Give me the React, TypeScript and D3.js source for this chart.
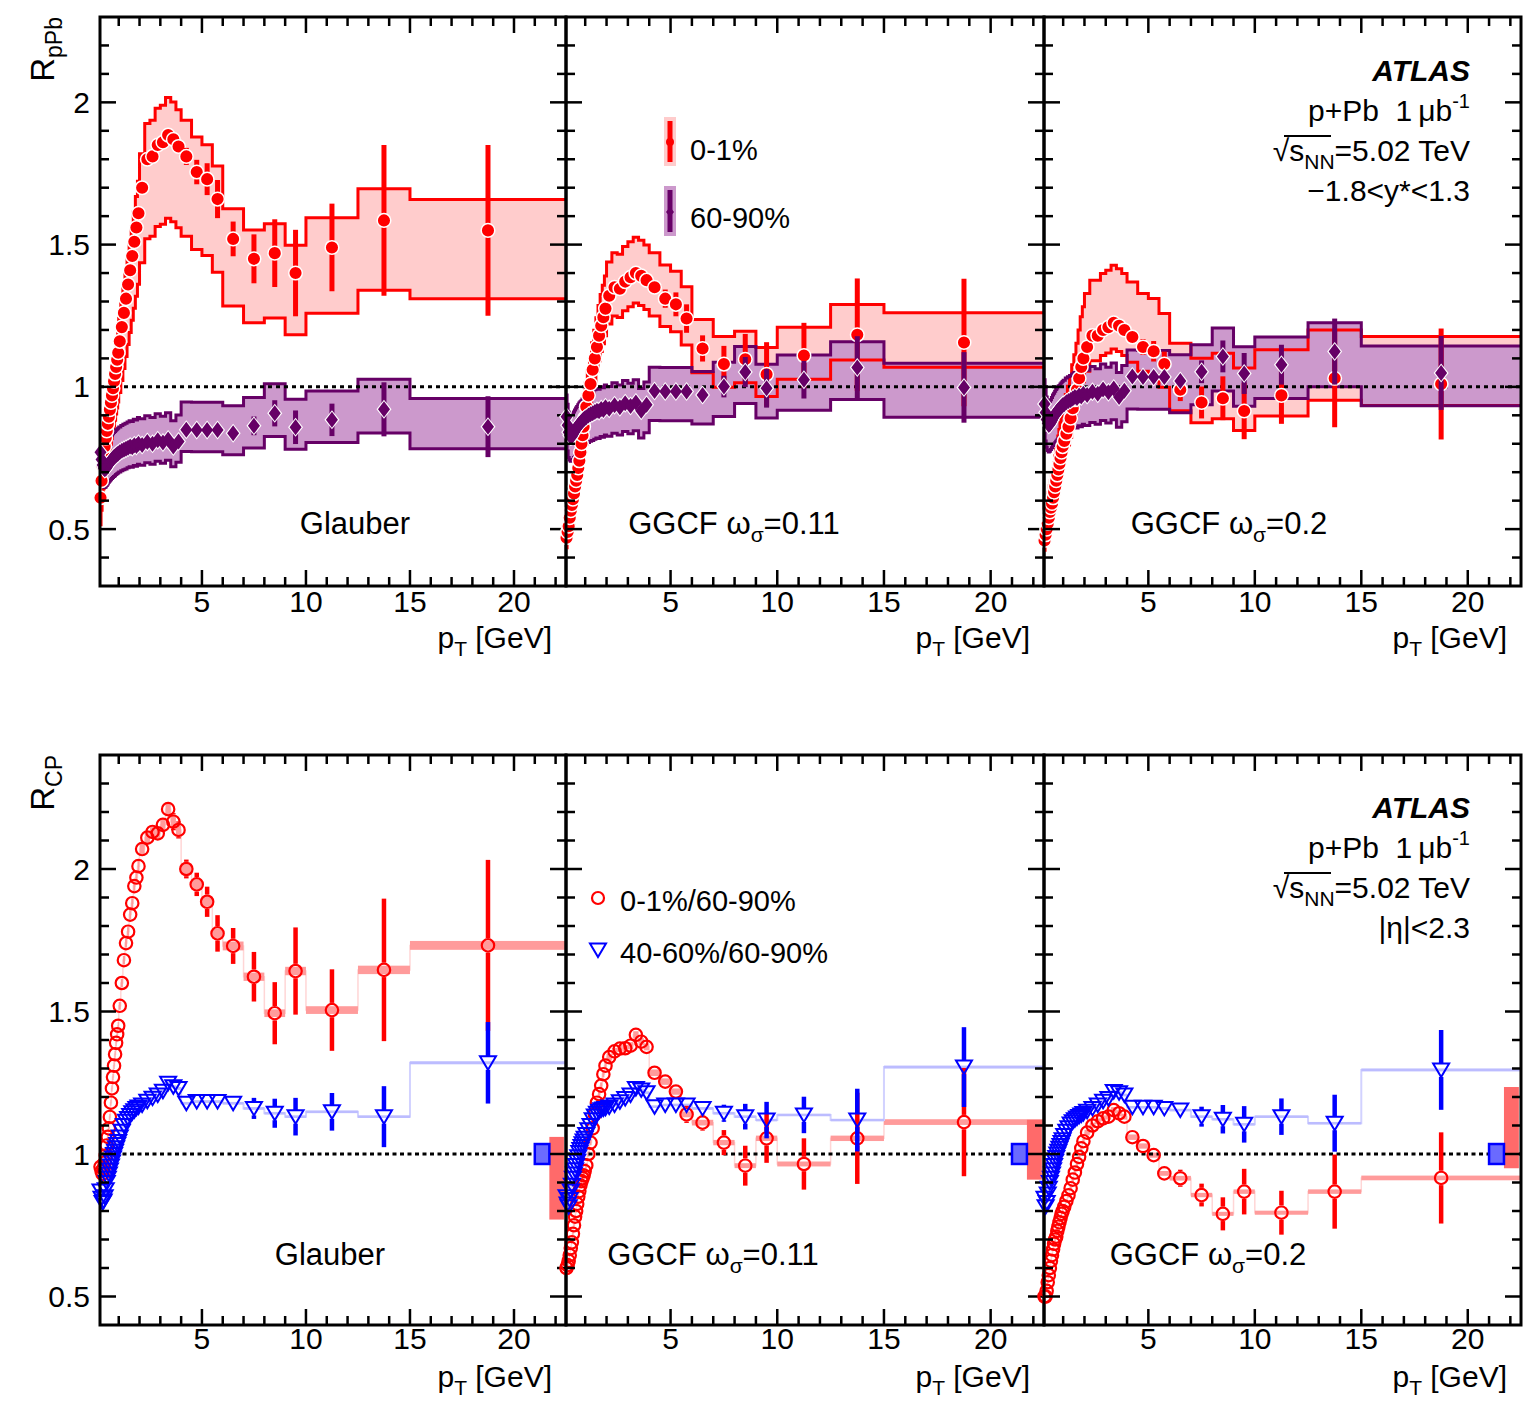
import React from 'react';
import * as d3 from 'd3';

const FONT = "'Liberation Sans', Arial, Helvetica, sans-serif";

// pT bin edges [GeV], 47 bins
const binEdges = [
  0.1, 0.15, 0.2, 0.25, 0.3, 0.35, 0.4, 0.45, 0.5, 0.55, 0.6, 0.65, 0.7, 0.75, 0.8, 0.85, 0.9, 0.95,
  1.0, 1.1, 1.2, 1.3, 1.4, 1.5, 1.6, 1.7, 1.8, 1.9,
  2.0, 2.25, 2.5, 2.75, 3.0, 3.25, 3.5, 3.75,
  4.0, 4.5, 5.0, 5.5, 6.0, 7.0, 8.0, 9.0, 10.0, 12.5, 15.0, 22.5,
];

// ---- R_pPb, -1.8<y*<1.3 ----
const rpbGlauber01 = [
  0.61, 0.67, 0.72, 0.76, 0.79, 0.82, 0.845, 0.87, 0.895, 0.92, 0.945, 0.97, 0.995, 1.02, 1.045, 1.07, 1.095, 1.12,
  1.16, 1.21, 1.26, 1.31, 1.36, 1.41, 1.46, 1.51, 1.56, 1.61,
  1.7, 1.8, 1.81, 1.85, 1.86, 1.885, 1.87, 1.845,
  1.81, 1.755, 1.73, 1.66, 1.52, 1.45, 1.47, 1.4, 1.49, 1.585, 1.55,
];
const rpbGlauber6090 = [
  0.77, 0.745, 0.725, 0.715, 0.71, 0.712, 0.718, 0.724, 0.73, 0.735, 0.74, 0.745, 0.749, 0.753, 0.756, 0.76, 0.763, 0.766,
  0.77, 0.775, 0.779, 0.782, 0.786, 0.79, 0.788, 0.795, 0.792, 0.8,
  0.796, 0.806, 0.8, 0.812, 0.804, 0.815, 0.79, 0.808,
  0.849, 0.848, 0.848, 0.848, 0.837, 0.863, 0.907, 0.858, 0.884, 0.921, 0.86,
];
const rpbGgcf11_01 = [
  0.47, 0.49, 0.51, 0.54, 0.565, 0.585, 0.605, 0.625, 0.65, 0.67, 0.69, 0.715, 0.74, 0.77, 0.8, 0.83, 0.86, 0.89,
  0.93, 0.97, 1.01, 1.06, 1.1, 1.14, 1.18, 1.215, 1.245, 1.275,
  1.32, 1.35, 1.345, 1.37, 1.385, 1.4, 1.39, 1.375,
  1.35, 1.31, 1.29, 1.24, 1.135, 1.08, 1.097, 1.044, 1.11, 1.183, 1.156,
];
const rpbGgcf11_6090 = [
  0.895, 0.865, 0.84, 0.83, 0.825, 0.826, 0.833, 0.84, 0.847, 0.853, 0.858, 0.864, 0.869, 0.873, 0.877, 0.882, 0.885, 0.889,
  0.893, 0.899, 0.904, 0.907, 0.912, 0.916, 0.914, 0.922, 0.919, 0.928,
  0.923, 0.935, 0.928, 0.942, 0.933, 0.945, 0.916, 0.937,
  0.985, 0.984, 0.984, 0.984, 0.971, 1.001, 1.052, 0.995, 1.025, 1.068, 0.998,
];
const rpbGgcf2_01 = [
  0.46, 0.48, 0.5, 0.52, 0.54, 0.56, 0.575, 0.59, 0.61, 0.63, 0.65, 0.67, 0.69, 0.71, 0.73, 0.75, 0.77, 0.79,
  0.81, 0.835, 0.86, 0.89, 0.925, 0.955, 0.99, 1.03, 1.07, 1.1,
  1.14, 1.18, 1.18, 1.2, 1.21, 1.225, 1.215, 1.2,
  1.175, 1.14, 1.125, 1.08, 0.99, 0.945, 0.96, 0.915, 0.97, 1.03, 1.01,
];
const rpbGgcf2_6090 = [
  0.94, 0.91, 0.885, 0.872, 0.866, 0.869, 0.876, 0.883, 0.891, 0.897, 0.903, 0.909, 0.914, 0.919, 0.922, 0.927, 0.931, 0.935,
  0.939, 0.946, 0.95, 0.954, 0.959, 0.964, 0.961, 0.97, 0.966, 0.976,
  0.971, 0.983, 0.976, 0.991, 0.981, 0.994, 0.964, 0.986,
  1.036, 1.035, 1.035, 1.035, 1.021, 1.053, 1.107, 1.047, 1.078, 1.124, 1.049,
];

// statistical errors, from bin index STAT_FROM (3.5-3.75 GeV) on
const STAT_FROM = 34;
const statGlauber01 = [0.01, 0.012, 0.03, 0.043, 0.056, 0.067, 0.061, 0.086, 0.119, 0.152, 0.154, 0.265, 0.3];
const statGlauber6090 = [0, 0, 0, 0, 0, 0, 0.01, 0.033, 0.046, 0.059, 0.057, 0.095, 0.107];
const statGgcf11_01 = [0.008, 0.009, 0.02, 0.032, 0.042, 0.05, 0.046, 0.064, 0.089, 0.113, 0.115, 0.198, 0.224];
const statGgcf11_6090 = [0, 0, 0, 0, 0, 0, 0.012, 0.038, 0.053, 0.068, 0.066, 0.11, 0.124];
const statGgcf2_01 = [0.007, 0.008, 0.018, 0.028, 0.036, 0.044, 0.04, 0.056, 0.077, 0.099, 0.1, 0.172, 0.195];
const statGgcf2_6090 = [0, 0, 0, 0, 0, 0, 0.012, 0.04, 0.056, 0.072, 0.07, 0.116, 0.13];

// relative systematic band [up, down]
const sysGlauber = { c01: [0.07, 0.155], c6090: [0.115, 0.09] };
const sysGgcf11 = { c01: [0.09, 0.075], c6090: [0.085, 0.105] };
const sysGgcf2 = { c01: [0.165, 0.075], c6090: [0.09, 0.11] };

// ---- R_CP, |eta|<2.3 ----
const rcpGlauber01 = [
  0.955, 0.94, 0.93, 0.95, 0.97, 0.995, 1.03, 1.06, 1.09, 1.13, 1.18, 1.23, 1.27, 1.31, 1.35, 1.39, 1.42, 1.45,
  1.52, 1.6, 1.68, 1.74, 1.78, 1.84, 1.88, 1.94, 1.97, 2.01,
  2.07, 2.11, 2.13, 2.125, 2.155, 2.21, 2.166, 2.137,
  2.0, 1.946, 1.885, 1.774, 1.73, 1.622, 1.494, 1.642, 1.505, 1.646, 1.732,
];
const rcpGlauber4060 = [
  0.87, 0.845, 0.83, 0.835, 0.85, 0.875, 0.9, 0.915, 0.93, 0.944, 0.958, 0.972, 0.986, 0.998, 1.01, 1.022, 1.033, 1.044,
  1.06, 1.08, 1.1, 1.115, 1.125, 1.135, 1.145, 1.152, 1.16, 1.165,
  1.172, 1.185, 1.196, 1.207, 1.22, 1.248, 1.236, 1.23,
  1.178, 1.184, 1.184, 1.184, 1.178, 1.16, 1.143, 1.131, 1.148, 1.131, 1.32,
];
const rcpGgcf11_01 = [
  0.6, 0.61, 0.625, 0.645, 0.67, 0.69, 0.72, 0.75, 0.78, 0.8, 0.825, 0.85, 0.87, 0.89, 0.905, 0.915, 0.925, 0.94,
  0.96, 1.0, 1.04, 1.09, 1.14, 1.18, 1.21, 1.24, 1.28, 1.31,
  1.34, 1.36, 1.37, 1.371, 1.38, 1.418, 1.394, 1.376,
  1.285, 1.254, 1.219, 1.139, 1.11, 1.04, 0.959, 1.055, 0.965, 1.055, 1.112,
];
const rcpGgcf11_4060 = [
  0.85, 0.825, 0.815, 0.84, 0.87, 0.89, 0.915, 0.93, 0.945, 0.96, 0.975, 0.99, 1.005, 1.016, 1.026, 1.036, 1.046, 1.055,
  1.068, 1.085, 1.1, 1.12, 1.133, 1.143, 1.15, 1.155, 1.158, 1.16,
  1.165, 1.172, 1.183, 1.195, 1.207, 1.23, 1.225, 1.215,
  1.166, 1.172, 1.172, 1.172, 1.16, 1.143, 1.131, 1.119, 1.137, 1.119, 1.305,
];
const rcpGgcf2_01 = [
  0.5, 0.5, 0.52, 0.55, 0.575, 0.6, 0.625, 0.645, 0.665, 0.685, 0.7, 0.71, 0.73, 0.745, 0.76, 0.775, 0.79, 0.8,
  0.815, 0.835, 0.855, 0.88, 0.91, 0.935, 0.965, 0.99, 1.02, 1.045,
  1.075, 1.1, 1.115, 1.125, 1.131, 1.154, 1.143, 1.131,
  1.059, 1.028, 0.996, 0.932, 0.915, 0.856, 0.79, 0.868, 0.794, 0.868, 0.916,
];
const rcpGgcf2_4060 = [
  0.845, 0.815, 0.83, 0.86, 0.88, 0.9, 0.915, 0.93, 0.945, 0.96, 0.975, 0.988, 1.0, 1.01, 1.02, 1.03, 1.04, 1.05,
  1.065, 1.08, 1.092, 1.105, 1.113, 1.12, 1.126, 1.132, 1.137, 1.142,
  1.15, 1.16, 1.172, 1.185, 1.195, 1.219, 1.215, 1.207,
  1.164, 1.164, 1.164, 1.16, 1.154, 1.131, 1.122, 1.104, 1.131, 1.108, 1.295,
];
const rcpStatGlauber01 = [0.03, 0.03, 0.033, 0.041, 0.053, 0.064, 0.063, 0.087, 0.109, 0.153, 0.143, 0.25, 0.3];
const rcpStatGlauber4060 = [0, 0, 0, 0, 0, 0.01, 0.02, 0.037, 0.051, 0.066, 0.066, 0.107, 0.143];
const rcpStatGgcf11_01 = [0.008, 0.01, 0.012, 0.015, 0.02, 0.03, 0.028, 0.044, 0.07, 0.086, 0.09, 0.16, 0.19];
const rcpStatGgcf11_4060 = [0, 0, 0, 0, 0, 0.01, 0.02, 0.03, 0.045, 0.064, 0.064, 0.11, 0.14];
const rcpStatGgcf2_01 = [0.006, 0.008, 0.01, 0.015, 0.02, 0.025, 0.03, 0.04, 0.058, 0.08, 0.077, 0.13, 0.16];
const rcpStatGgcf2_4060 = [0, 0, 0, 0, 0, 0.01, 0.02, 0.035, 0.05, 0.064, 0.064, 0.1, 0.14];
const rcpSysRel01 = 0.009;
const rcpSysRel4060 = 0.004;
// normalisation uncertainties [low, high] per panel
const normRed = [[0.77, 1.06], [0.91, 1.12], [0.95, 1.235]];
const normBlue = [[0.965, 1.035], [0.965, 1.035], [0.965, 1.035]];
const normPt = [21.0, 21.7, 22.4];

const ptRange = [0.1, 22.5];
const rpbRange = [0.3, 2.3];
const rcpRange = [0.4, 2.4];
const yLabelVals = [0.5, 1, 1.5, 2];
const xLabelVals = [5, 10, 15, 20];

const panelCols = [
  { x0: 100, x1: 566 },
  { x0: 566, x1: 1044 },
  { x0: 1044, x1: 1521 },
];
const TOP = { y0: 17, y1: 586 };
const BOT = { y0: 755, y1: 1325 };

const centers = binEdges.slice(0, -1).map((e, i) => (e + binEdges[i + 1]) / 2);
const statAt = (arr: number[], i: number) => (i >= STAT_FROM ? arr[i - STAT_FROM] : 0);

type BandPt = { x: number; lo: number; hi: number };
function stepBand(vals: number[], up: number, dn: number): BandPt[] {
  return vals.flatMap((v, i) => [
    { x: binEdges[i], lo: v * (1 - dn), hi: v * (1 + up) },
    { x: binEdges[i + 1], lo: v * (1 - dn), hi: v * (1 + up) },
  ]);
}

function Frame({ x, y }: { x: d3.ScaleLinear<number, number>; y: d3.ScaleLinear<number, number> }) {
  const [xl, xr] = x.range();
  const [yb, yt] = y.range();
  const [d0, d1] = y.domain();
  const xt = d3.range(1, 23);
  const yt10 = d3.range(Math.round(d0 * 10) + 1, Math.round(d1 * 10));
  return (
    <g stroke="#000" strokeWidth={2.5} fill="none">
      {xt.map((v) => {
        const L = v % 5 === 0 ? 16 : 9;
        return (
          <g key={'x' + v}>
            <line x1={x(v)} x2={x(v)} y1={yb} y2={yb - L} />
            <line x1={x(v)} x2={x(v)} y1={yt} y2={yt + L} />
          </g>
        );
      })}
      {yt10.map((k) => {
        const L = k % 5 === 0 ? 16 : 9;
        const yy = y(k / 10);
        return (
          <g key={'y' + k}>
            <line x1={xl} x2={xl + L} y1={yy} y2={yy} />
            <line x1={xr} x2={xr - L} y1={yy} y2={yy} />
          </g>
        );
      })}
      <rect x={xl} y={yt} width={xr - xl} height={yb - yt} strokeWidth={3} />
    </g>
  );
}

function AxisText({ x, y, col, tickBase, titleBase }: any) {
  const [xl, xr] = x.range();
  return (
    <g fontFamily={FONT} fill="#000">
      {xLabelVals.map((v) => (
        <text key={v} x={x(v)} y={tickBase} fontSize={30} textAnchor="middle">{v}</text>
      ))}
      {col === 0 &&
        yLabelVals.map((v) => (
          <text key={'l' + v} x={xl - 10} y={y(v) + 10.5} fontSize={30} textAnchor="end">{v}</text>
        ))}
      <text x={xr - 14} y={titleBase} fontSize={30} textAnchor="end">
        p<tspan dy={8} fontSize={21}>T</tspan>
        <tspan dy={-8}>{'\u00a0[GeV]'}</tspan>
      </text>
    </g>
  );
}

function PanelLabel({ text, cx, base }: { text: string; cx: number; base: number }) {
  if (text === 'Glauber')
    return <text x={cx} y={base} fontSize={31} textAnchor="middle" fontFamily={FONT}>Glauber</text>;
  return (
    <text x={cx} y={base} fontSize={31} textAnchor="middle" fontFamily={FONT}>
      {'GGCF \u03c9'}
      <tspan dy={8} fontSize={21}>{'\u03c3'}</tspan>
      <tspan dy={-8}>{'=' + text}</tspan>
    </text>
  );
}

function AtlasBlock({ base, last }: { base: number; last: React.ReactNode }) {
  const xr = 1470;
  return (
    <g fontFamily={FONT} fontSize={30} textAnchor="end" fill="#000">
      <text x={xr} y={base} fontWeight="bold" fontStyle="italic">ATLAS</text>
      <text x={xr} y={base + 40}>
        {'p+Pb\u00a0\u00a01\u2009\u03bcb'}
        <tspan dy={-13} fontSize={20}>-1</tspan>
      </text>
      <text x={xr} y={base + 80}>
        {'\u221as'}
        <tspan dy={8} fontSize={21}>NN</tspan>
        <tspan dy={-8}>=5.02 TeV</tspan>
      </text>
      <line x1={1284} x2={1331} y1={base + 55} y2={base + 55} stroke="#000" strokeWidth={2} />
      <text x={xr} y={base + 120}>{last}</text>
    </g>
  );
}

const diamond = (cx: number, cy: number, w: number, h: number) =>
  `M${cx},${cy - h}L${cx + w},${cy}L${cx},${cy + h}L${cx - w},${cy}Z`;
const triDown = (cx: number, cy: number) => `M${cx - 8},${cy - 6.5}L${cx + 8},${cy - 6.5}L${cx},${cy + 7}Z`;

function RpPbPanel({ col, red, purple, redStat, purpleStat, sys, label, labelX }: any) {
  const { x0, x1 } = panelCols[col];
  const x = d3.scaleLinear().domain(ptRange).range([x0, x1]);
  const y = d3.scaleLinear().domain(rpbRange).range([TOP.y1, TOP.y0]);
  const redBand = stepBand(red, sys.c01[0], sys.c01[1]);
  const purBand = stepBand(purple, sys.c6090[0], sys.c6090[1]);
  const area = d3.area<BandPt>().x((d) => x(d.x)).y0((d) => y(d.lo)).y1((d) => y(d.hi));
  const hi = d3.line<BandPt>().x((d) => x(d.x)).y((d) => y(d.hi));
  const lo = d3.line<BandPt>().x((d) => x(d.x)).y((d) => y(d.lo));
  const clip = `clip-top-${col}`;
  return (
    <g>
      <defs>
        <clipPath id={clip}>
          <rect x={x0} y={TOP.y0} width={x1 - x0} height={TOP.y1 - TOP.y0} />
        </clipPath>
      </defs>
      <g clipPath={`url(#${clip})`}>
        <path d={area(redBand) as string} fill="#ffcccc" />
        <path d={area(purBand) as string} fill="#cc99cc" />
        <path d={hi(redBand) as string} fill="none" stroke="#ff0000" strokeWidth={3} />
        <path d={lo(redBand) as string} fill="none" stroke="#ff0000" strokeWidth={3} />
        <path d={hi(purBand) as string} fill="none" stroke="#660066" strokeWidth={3} />
        <path d={lo(purBand) as string} fill="none" stroke="#660066" strokeWidth={3} />
        <line x1={x0} x2={x1} y1={y(1)} y2={y(1)} stroke="#000" strokeWidth={3} strokeDasharray="4 4" />
      </g>
      {red.map((v: number, i: number) => {
        const s = statAt(redStat, i);
        const cx = x(centers[i]);
        return (
          <g key={'r' + i}>
            {s > 0 && <line x1={cx} x2={cx} y1={y(v + s)} y2={y(v - s)} stroke="#ff0000" strokeWidth={5} />}
            <circle cx={cx} cy={y(v)} r={6.8} fill="#ff0000" stroke="#fff" strokeWidth={1.5} />
          </g>
        );
      })}
      {purple.map((v: number, i: number) => {
        const s = statAt(purpleStat, i);
        const cx = x(centers[i]);
        return s > 0 ? (
          <line key={'pe' + i} x1={cx} x2={cx} y1={y(v + s)} y2={y(v - s)} stroke="#660066" strokeWidth={5} />
        ) : null;
      })}
      {purple.map((v: number, i: number) => (
        <path key={'pw' + i} d={diamond(x(centers[i]), y(v), 7.5, 9.5)} fill="#fff" />
      ))}
      {purple.map((v: number, i: number) => (
        <path key={'pm' + i} d={diamond(x(centers[i]), y(v), 6, 8)} fill="#660066" />
      ))}
      <Frame x={x} y={y} />
      <AxisText x={x} y={y} col={col} tickBase={612} titleBase={648} />
      <PanelLabel text={label} cx={labelX} base={534} />
    </g>
  );
}

function RcpPanel({ col, red, blue, redStat, blueStat, label, labelX }: any) {
  const { x0, x1 } = panelCols[col];
  const x = d3.scaleLinear().domain(ptRange).range([x0, x1]);
  const y = d3.scaleLinear().domain(rcpRange).range([BOT.y1, BOT.y0]);
  const step = d3.line<{ x: number; v: number }>().x((d) => x(d.x)).y((d) => y(d.v));
  const stepPts = (vals: number[]) =>
    vals.flatMap((v, i) => [
      { x: binEdges[i], v },
      { x: binEdges[i + 1], v },
    ]);
  const boxes = (vals: number[], rel: number, fill: string, k: string) =>
    vals.map((v, i) => (
      <rect
        key={k + i}
        x={x(binEdges[i])}
        width={x(binEdges[i + 1]) - x(binEdges[i])}
        y={y(v * (1 + rel))}
        height={y(v * (1 - rel)) - y(v * (1 + rel))}
        fill={fill}
      />
    ));
  const clip = `clip-bot-${col}`;
  const nr = normRed[col];
  const nb = normBlue[col];
  return (
    <g>
      <defs>
        <clipPath id={clip}>
          <rect x={x0} y={BOT.y0} width={x1 - x0} height={BOT.y1 - BOT.y0} />
        </clipPath>
      </defs>
      <g clipPath={`url(#${clip})`}>
        <path d={step(stepPts(red)) as string} fill="none" stroke="#ffd6d6" strokeWidth={1.5} />
        {boxes(red, rcpSysRel01, '#ff9b9b', 'rb')}
        <path d={step(stepPts(blue)) as string} fill="none" stroke="#d2d2ff" strokeWidth={2} />
        {boxes(blue, rcpSysRel4060, '#bcbcff', 'bb')}
        <line x1={x0} x2={x1} y1={y(1)} y2={y(1)} stroke="#000" strokeWidth={3} strokeDasharray="4 3.5" />
        <rect x={x(normPt[1])} width={x(normPt[2]) - x(normPt[1])} y={y(nr[1])} height={y(nr[0]) - y(nr[1])} fill="#ff6a6a" />
        <rect
          x={x(normPt[0])}
          width={x(normPt[1]) - x(normPt[0])}
          y={y(nb[1])}
          height={y(nb[0]) - y(nb[1])}
          fill="#6a6aff"
          stroke="#0000ff"
          strokeWidth={2.5}
        />
      </g>
      {red.map((v: number, i: number) => {
        const s = statAt(redStat, i);
        const cx = x(centers[i]);
        const cy = y(v);
        const g = 7.2;
        return (
          <g key={'r' + i}>
            {s > 0 && y(v + s) < cy - g && (
              <g stroke="#ff0000" strokeWidth={4.5}>
                <line x1={cx} x2={cx} y1={y(v + s)} y2={cy - g} />
                <line x1={cx} x2={cx} y1={cy + g} y2={y(v - s)} />
              </g>
            )}
            <circle cx={cx} cy={cy} r={6.2} fill="none" stroke="#ff0000" strokeWidth={2.2} />
          </g>
        );
      })}
      {blue.map((v: number, i: number) => {
        const s = statAt(blueStat, i);
        const cx = x(centers[i]);
        const cy = y(v);
        return (
          <g key={'b' + i}>
            {s > 0 && y(v + s) < cy - 6.5 && (
              <g stroke="#0000ff" strokeWidth={4.5}>
                <line x1={cx} x2={cx} y1={y(v + s)} y2={cy - 6.5} />
                <line x1={cx} x2={cx} y1={cy + 7} y2={y(v - s)} />
              </g>
            )}
            <path d={triDown(cx, cy)} fill="none" stroke="#0000ff" strokeWidth={2} />
          </g>
        );
      })}
      <Frame x={x} y={y} />
      <AxisText x={x} y={y} col={col} tickBase={1349} titleBase={1387} />
      <PanelLabel text={label} cx={labelX} base={1265} />
    </g>
  );
}

export default function App() {
  return (
    <svg
      width={1538}
      height={1412}
      style={{ position: 'absolute', left: 0, top: 0, background: '#fff' }}
      fontFamily={FONT}
    >
      <rect x={0} y={0} width={1538} height={1412} fill="#fff" />
      <RpPbPanel col={0} red={rpbGlauber01} purple={rpbGlauber6090} redStat={statGlauber01} purpleStat={statGlauber6090} sys={sysGlauber} label="Glauber" labelX={355} />
      <RpPbPanel col={1} red={rpbGgcf11_01} purple={rpbGgcf11_6090} redStat={statGgcf11_01} purpleStat={statGgcf11_6090} sys={sysGgcf11} label="0.11" labelX={734} />
      <RpPbPanel col={2} red={rpbGgcf2_01} purple={rpbGgcf2_6090} redStat={statGgcf2_01} purpleStat={statGgcf2_6090} sys={sysGgcf2} label="0.2" labelX={1229} />

      <RcpPanel col={0} red={rcpGlauber01} blue={rcpGlauber4060} redStat={rcpStatGlauber01} blueStat={rcpStatGlauber4060} label="Glauber" labelX={330} />
      <RcpPanel col={1} red={rcpGgcf11_01} blue={rcpGgcf11_4060} redStat={rcpStatGgcf11_01} blueStat={rcpStatGgcf11_4060} label="0.11" labelX={713} />
      <RcpPanel col={2} red={rcpGgcf2_01} blue={rcpGgcf2_4060} redStat={rcpStatGgcf2_01} blueStat={rcpStatGgcf2_4060} label="0.2" labelX={1208} />

      {/* y axis titles */}
      <text transform="translate(54,17) rotate(-90)" textAnchor="end" fontSize={33} fontFamily={FONT}>
        R<tspan dy={8} fontSize={23}>pPb</tspan>
      </text>
      <text transform="translate(54,755) rotate(-90)" textAnchor="end" fontSize={33} fontFamily={FONT}>
        R<tspan dy={8} fontSize={23}>CP</tspan>
      </text>

      {/* R_pPb legend */}
      <rect x={664} y={117} width={12} height={49} fill="#ffcccc" />
      <rect x={667.5} y={121} width={5} height={41} fill="#ff0000" />
      <circle cx={670} cy={142} r={4} fill="#ff0000" />
      <text x={690} y={160} fontSize={29} fontFamily={FONT}>0-1%</text>
      <rect x={664} y={186} width={12} height={50} fill="#cc99cc" />
      <rect x={667.5} y={190} width={5} height={42} fill="#660066" />
      <path d={diamond(670, 212, 4, 5)} fill="#660066" />
      <text x={690} y={228} fontSize={29} fontFamily={FONT}>60-90%</text>

      {/* R_CP legend */}
      <circle cx={598} cy={898} r={6} fill="none" stroke="#ff0000" strokeWidth={2.2} />
      <text x={620} y={911} fontSize={29} fontFamily={FONT}>0-1%/60-90%</text>
      <path d={triDown(598, 950)} fill="none" stroke="#0000ff" strokeWidth={2} />
      <text x={620} y={963} fontSize={29} fontFamily={FONT}>40-60%/60-90%</text>

      <AtlasBlock base={81} last={'\u22121.8<y*<1.3'} />
      <AtlasBlock base={818} last={'|\u03b7|<2.3'} />
    </svg>
  );
}
